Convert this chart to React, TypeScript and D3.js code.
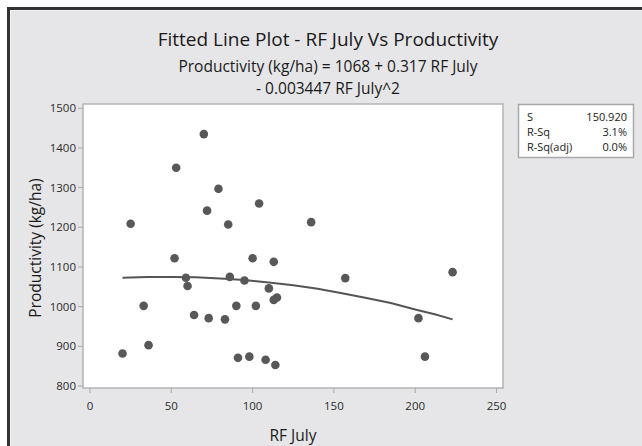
import React, { useEffect, useRef } from "react";
import * as d3 from "d3";

// RF July (mm) vs productivity (kg/ha)
const rfJuly = [20, 25, 33, 36, 53, 52, 59, 60, 64, 70, 72, 73, 79, 83, 85, 86, 90, 91, 95, 98, 100, 102, 104, 108, 110, 113, 113, 115, 114, 136, 157, 202, 206, 223];
const productivity = [882, 1209, 1002, 903, 1350, 1122, 1073, 1052, 979, 1435, 1242, 971, 1297, 968, 1207, 1075, 1002, 871, 1066, 874, 1122, 1002, 1260, 866, 1046, 1113, 1017, 1023, 853, 1213, 1072, 971, 874, 1087];

// fitted quadratic curve as drawn
const fitX = [20, 35, 50, 65, 80, 95, 110, 125, 140, 155, 170, 185, 200, 212, 223];
const fitY = [1073, 1075, 1075, 1074, 1071, 1067, 1061, 1054, 1045, 1034, 1022, 1009, 993, 981, 968];

const xTicks = [0, 50, 100, 150, 200, 250];
const yTicks = [800, 900, 1000, 1100, 1200, 1300, 1400, 1500];

const statLabels = ["S", "R-Sq", "R-Sq(adj)"];
const statValues = ["150.920", "3.1%", "0.0%"];

const W = 642;
const H = 446;
const FONT = "'Open Sans', 'Noto Sans', sans-serif";

export default function App() {
  const svgRef = useRef<SVGSVGElement | null>(null);

  useEffect(() => {
    if (!svgRef.current) return;
    const svg = d3.select(svgRef.current);
    svg.selectAll("*").remove();

    const x = d3.scaleLinear().domain([0, 250]).range([90, 496.5]);
    const y = d3.scaleLinear().domain([800, 1500]).range([386, 108.3]);
    const plot = { left: 83, right: 503, top: 104, bottom: 388 };

    // page background + dark outer frame
    svg.append("rect").attr("width", W).attr("height", H).attr("fill", "#ffffff");
    svg.append("rect")
      .attr("x", 8.5).attr("y", 8.5)
      .attr("width", W + 20).attr("height", H + 20)
      .attr("fill", "#e6e6e8")
      .attr("stroke", "#333333")
      .attr("stroke-width", 3);
    svg.append("rect")
      .attr("x", 10.5).attr("y", 10.5)
      .attr("width", W + 20).attr("height", H + 20)
      .attr("fill", "none")
      .attr("stroke", "#f2f2f3")
      .attr("stroke-width", 1);

    // titles
    const titles = [
      { t: "Fitted Line Plot - RF July Vs Productivity", y: 46, s: 19 },
      { t: "Productivity (kg/ha) = 1068 + 0.317 RF July", y: 72, s: 15.5 },
      { t: "- 0.003447 RF July^2", y: 94, s: 15.5 },
    ];
    titles.forEach((d) => {
      svg.append("text")
        .attr("x", 328)
        .attr("y", d.y)
        .attr("text-anchor", "middle")
        .attr("font-family", FONT)
        .attr("font-size", d.s)
        .attr("fill", "#1a1a1a")
        .text(d.t);
    });

    // plot area
    svg.append("rect")
      .attr("x", plot.left).attr("y", plot.top)
      .attr("width", plot.right - plot.left)
      .attr("height", plot.bottom - plot.top)
      .attr("fill", "#ffffff")
      .attr("stroke", "#b4b4b6")
      .attr("stroke-width", 1.5);

    // y axis ticks
    const yg = svg.append("g");
    yTicks.forEach((v) => {
      yg.append("line")
        .attr("x1", plot.left - 5).attr("x2", plot.left)
        .attr("y1", y(v)).attr("y2", y(v))
        .attr("stroke", "#a8a8aa");
      yg.append("text")
        .attr("x", plot.left - 7)
        .attr("y", y(v))
        .attr("dy", "0.35em")
        .attr("text-anchor", "end")
        .attr("font-family", FONT)
        .attr("font-size", 11.5)
        .attr("fill", "#2b2b2b")
        .text(v);
    });

    // x axis ticks
    const xg = svg.append("g");
    xTicks.forEach((v) => {
      xg.append("line")
        .attr("x1", x(v)).attr("x2", x(v))
        .attr("y1", plot.bottom).attr("y2", plot.bottom + 5)
        .attr("stroke", "#a8a8aa");
      xg.append("text")
        .attr("x", x(v))
        .attr("y", plot.bottom + 22)
        .attr("text-anchor", "middle")
        .attr("font-family", FONT)
        .attr("font-size", 11.5)
        .attr("fill", "#2b2b2b")
        .text(v);
    });

    // axis titles
    svg.append("text")
      .attr("x", 293).attr("y", 441)
      .attr("text-anchor", "middle")
      .attr("font-family", FONT)
      .attr("font-size", 15.5)
      .attr("fill", "#1a1a1a")
      .text("RF July");
    svg.append("text")
      .attr("transform", `translate(41,248) rotate(-90)`)
      .attr("text-anchor", "middle")
      .attr("font-family", FONT)
      .attr("font-size", 15.5)
      .attr("fill", "#1a1a1a")
      .text("Productivity (kg/ha)");

    // fitted line
    const line = d3.line<number>()
      .x((d) => x(d))
      .y((_, i) => y(fitY[i]));
    svg.append("path")
      .datum(fitX)
      .attr("d", line)
      .attr("fill", "none")
      .attr("stroke", "#555557")
      .attr("stroke-width", 2);

    // points
    svg.append("g")
      .selectAll("circle")
      .data(rfJuly)
      .join("circle")
      .attr("cx", (d) => x(d))
      .attr("cy", (_, i) => y(productivity[i]))
      .attr("r", 4.3)
      .attr("fill", "#58585a");

    // stats box
    const box = { x: 518, y: 104, w: 115, h: 53 };
    svg.append("rect")
      .attr("x", box.x + 0.5).attr("y", box.y + 0.5)
      .attr("width", box.w).attr("height", box.h)
      .attr("fill", "#ffffff")
      .attr("stroke", "#a8a8aa")
      .attr("stroke-width", 1.5);
    statLabels.forEach((lab, i) => {
      const ty = box.y + 17 + i * 15;
      svg.append("text")
        .attr("x", box.x + 9).attr("y", ty)
        .attr("font-family", FONT)
        .attr("font-size", 11)
        .attr("fill", "#1a1a1a")
        .text(lab);
      svg.append("text")
        .attr("x", box.x + box.w - 6).attr("y", ty)
        .attr("text-anchor", "end")
        .attr("font-family", FONT)
        .attr("font-size", 11)
        .attr("fill", "#1a1a1a")
        .text(statValues[i]);
    });
  }, []);

  return (
    <div style={{ position: "fixed", left: 0, top: 0, width: W, height: H }}>
      <svg ref={svgRef} width={W} height={H} style={{ display: "block" }} />
    </div>
  );
}
